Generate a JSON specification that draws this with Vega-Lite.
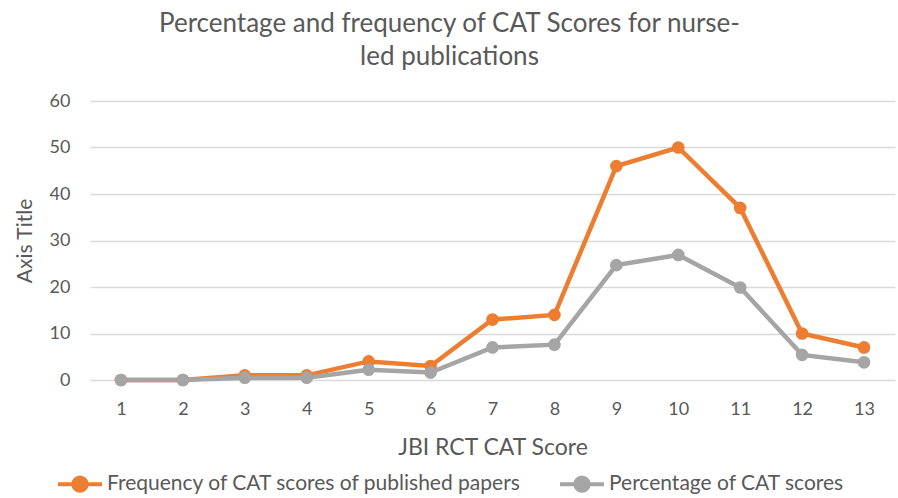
{
  "$schema": "https://vega.github.io/schema/vega-lite/v6.json",
  "width": 805,
  "height": 279,
  "autosize": "none",
  "padding": {"left": 90, "top": 101, "right": 3, "bottom": 118},
  "background": "white",
  "config": {"font": "Lato", "view": {"stroke": null}},
  "title": {
    "text": ["Percentage and frequency of CAT Scores for nurse-", "led publications"],
    "anchor": "middle",
    "dx": -43,
    "fontSize": 26,
    "font": "Lato",
    "fontWeight": "normal",
    "color": "#595959",
    "offset": 22,
    "lineHeight": 33
  },
  "data": {
    "values": [
      {"score": 1, "series": "Frequency of CAT scores of published papers", "value": 0},
      {"score": 2, "series": "Frequency of CAT scores of published papers", "value": 0},
      {"score": 3, "series": "Frequency of CAT scores of published papers", "value": 1},
      {"score": 4, "series": "Frequency of CAT scores of published papers", "value": 1},
      {"score": 5, "series": "Frequency of CAT scores of published papers", "value": 4},
      {"score": 6, "series": "Frequency of CAT scores of published papers", "value": 3},
      {"score": 7, "series": "Frequency of CAT scores of published papers", "value": 13},
      {"score": 8, "series": "Frequency of CAT scores of published papers", "value": 14},
      {"score": 9, "series": "Frequency of CAT scores of published papers", "value": 46},
      {"score": 10, "series": "Frequency of CAT scores of published papers", "value": 50},
      {"score": 11, "series": "Frequency of CAT scores of published papers", "value": 37},
      {"score": 12, "series": "Frequency of CAT scores of published papers", "value": 10},
      {"score": 13, "series": "Frequency of CAT scores of published papers", "value": 7},
      {"score": 1, "series": "Percentage of CAT scores", "value": 0},
      {"score": 2, "series": "Percentage of CAT scores", "value": 0},
      {"score": 3, "series": "Percentage of CAT scores", "value": 0.5},
      {"score": 4, "series": "Percentage of CAT scores", "value": 0.5},
      {"score": 5, "series": "Percentage of CAT scores", "value": 2.2},
      {"score": 6, "series": "Percentage of CAT scores", "value": 1.6},
      {"score": 7, "series": "Percentage of CAT scores", "value": 7},
      {"score": 8, "series": "Percentage of CAT scores", "value": 7.6},
      {"score": 9, "series": "Percentage of CAT scores", "value": 24.7},
      {"score": 10, "series": "Percentage of CAT scores", "value": 26.9},
      {"score": 11, "series": "Percentage of CAT scores", "value": 19.9},
      {"score": 12, "series": "Percentage of CAT scores", "value": 5.4},
      {"score": 13, "series": "Percentage of CAT scores", "value": 3.8}
    ]
  },
  "encoding": {
    "x": {
      "field": "score",
      "type": "ordinal",
      "title": "JBI RCT CAT Score",
      "axis": {
        "labelAngle": 0,
        "domain": false,
        "ticks": false,
        "labelPadding": 20,
        "labelFontSize": 18,
        "labelColor": "#595959",
        "titleFontSize": 23,
        "titleFontWeight": "normal",
        "titleColor": "#595959",
        "titlePadding": 18
      }
    },
    "y": {
      "field": "value",
      "type": "quantitative",
      "title": "Axis Title",
      "scale": {"domain": [0, 60], "nice": false},
      "axis": {
        "values": [0, 10, 20, 30, 40, 50, 60],
        "domain": false,
        "ticks": false,
        "gridColor": "#D9D9D9",
        "gridWidth": 1.3,
        "labelPadding": 20,
        "labelFontSize": 18,
        "labelColor": "#595959",
        "titleFontSize": 21,
        "titleFontWeight": "normal",
        "titleColor": "#595959",
        "titlePadding": 14
      }
    },
    "color": {
      "field": "series",
      "type": "nominal",
      "scale": {
        "domain": ["Frequency of CAT scores of published papers", "Percentage of CAT scores"],
        "range": ["#ED7D31", "#A5A5A5"]
      },
      "legend": {
        "title": null,
        "orient": "none",
        "direction": "horizontal",
        "legendX": -34,
        "legendY": 359,
        "symbolType": "M-1,0H1M0.3,0A0.3,0.3,0,1,1,-0.3,0A0.3,0.3,0,1,1,0.3,0Z",
        "symbolSize": 1936,
        "symbolStrokeWidth": 4,
        "labelFontSize": 21,
        "labelColor": "#595959",
        "labelOffset": 3,
        "columnPadding": 30,
        "labelLimit": 600
      }
    }
  },
  "layer": [
    {"mark": {"type": "line", "strokeWidth": 4.5}},
    {"mark": {"type": "point", "filled": true, "size": 160, "opacity": 1}}
  ]
}
